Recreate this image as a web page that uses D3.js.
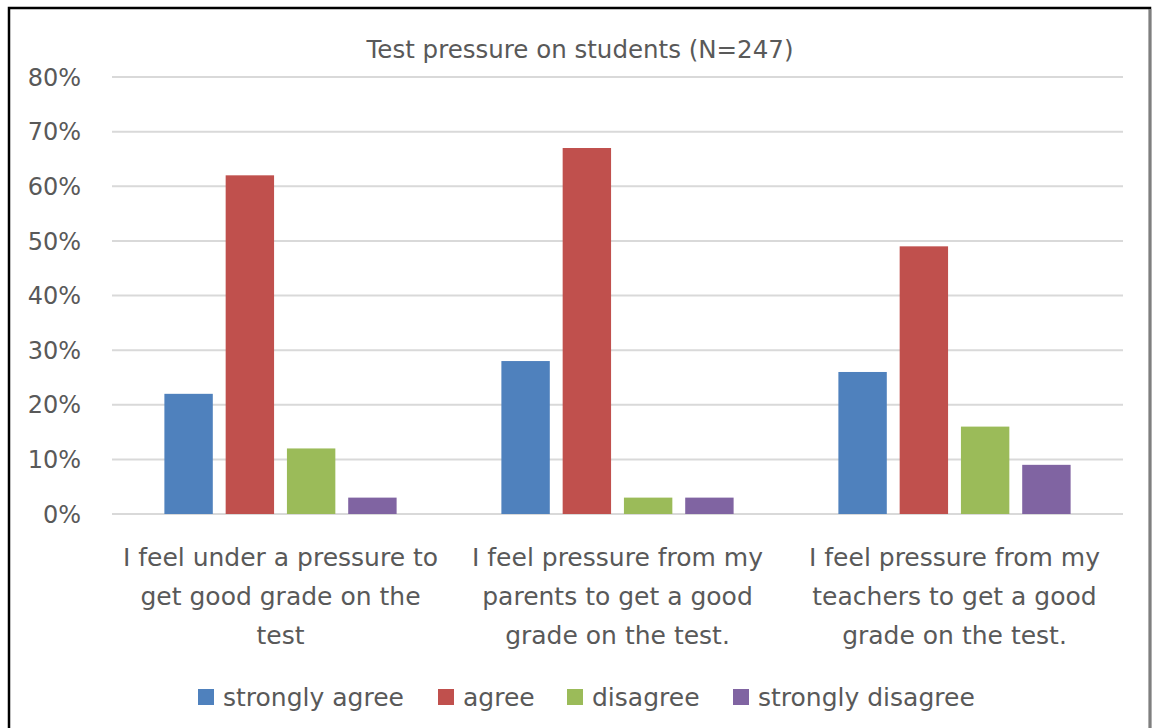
<!DOCTYPE html>
<html>
<head>
<meta charset="utf-8">
<script src="https://cdn.jsdelivr.net/npm/d3@7"></script>
<style>
  body { margin: 0; background: #fff; }
  text { font-family: "DejaVu Sans", sans-serif; fill: #595959; }
</style>
</head>
<body>
<script>
// data
const categories = [
    ["I feel under a pressure to", "get good grade on the", "test"],
    ["I feel pressure from my", "parents to get a good", "grade on the test."],
    ["I feel pressure from my", "teachers to get a good", "grade on the test."]
];
const seriesNames = ["strongly agree", "agree", "disagree", "strongly disagree"];
const stronglyAgree = [22, 28, 26];
const agree = [62, 67, 49];
const disagree = [12, 3, 16];
const stronglyDisagree = [3, 3, 9];
const yTicks = [0, 10, 20, 30, 40, 50, 60, 70, 80];
const colors = ["#4f81bd", "#c0504d", "#9bbb59", "#8064a2"];

const values = [stronglyAgree, agree, disagree, stronglyDisagree];

const width = 1152;
const height = 728;
const margin = { left: 112, right: 29, top: 77, bottom: 214 };

const svg = d3.select("body")
    .append("svg")
    .attr("width", width)
    .attr("height", height);

// frame (black top/left, grey right)
svg.append("rect")
    .attr("x", 9).attr("y", 8)
    .attr("width", 1141).attr("height", 730)
    .attr("fill", "white")
    .attr("stroke", "#000")
    .attr("stroke-width", 2.5);
svg.append("line")
    .attr("x1", 1150).attr("x2", 1150)
    .attr("y1", 9).attr("y2", height)
    .attr("stroke", "#7f7f7f")
    .attr("stroke-width", 2.5);

const x0 = d3.scaleBand()
    .domain(d3.range(categories.length))
    .range([margin.left, width - margin.right]);

const x1 = d3.scaleBand()
    .domain(d3.range(seriesNames.length))
    .range([0, x0.bandwidth()])
    .paddingInner(0.21)
    .paddingOuter(0.855);

const y = d3.scaleLinear()
    .domain([0, 80])
    .range([height - margin.bottom, margin.top]);

// gridlines
svg.append("g")
    .selectAll("line")
    .data(yTicks)
    .enter().append("line")
    .attr("x1", margin.left)
    .attr("x2", width - margin.right)
    .attr("y1", d => y(d))
    .attr("y2", d => y(d))
    .attr("stroke", "#d9d9d9")
    .attr("stroke-width", 2);

// y labels
svg.append("g")
    .selectAll("text")
    .data(yTicks)
    .enter().append("text")
    .attr("x", 81)
    .attr("y", d => y(d))
    .attr("dy", "0.36em")
    .attr("text-anchor", "end")
    .style("font-size", "24px")
    .text(d => d + "%");

// bars
const groups = svg.append("g")
    .selectAll("g")
    .data(categories)
    .enter().append("g")
    .attr("transform", (d, i) => `translate(${x0(i)},0)`);

groups.selectAll("rect")
    .data((d, i) => values.map((s, j) => ({ s: j, v: s[i] })))
    .enter().append("rect")
    .attr("x", d => x1(d.s))
    .attr("width", x1.bandwidth())
    .attr("y", d => y(d.v))
    .attr("height", d => y(0) - y(d.v))
    .attr("fill", d => colors[d.s]);

// category labels
const catLabels = svg.append("g")
    .selectAll("text")
    .data(categories)
    .enter().append("text")
    .attr("x", (d, i) => x0(i) + x0.bandwidth() / 2)
    .attr("y", 566)
    .attr("text-anchor", "middle")
    .style("font-size", "25px");

catLabels.selectAll("tspan")
    .data(d => d)
    .enter().append("tspan")
    .attr("x", function () { return d3.select(this.parentNode).attr("x"); })
    .attr("dy", (d, i) => i === 0 ? 0 : 39)
    .text(d => d);

// title
svg.append("text")
    .attr("x", 580)
    .attr("y", 58)
    .attr("text-anchor", "middle")
    .style("font-size", "24.5px")
    .text("Test pressure on students (N=247)");

// legend
const legendX = [198, 438, 567, 733];
const legend = svg.append("g")
    .selectAll("g")
    .data(seriesNames)
    .enter().append("g")
    .attr("transform", (d, i) => `translate(${legendX[i]},689)`);

legend.append("rect")
    .attr("width", 16)
    .attr("height", 16)
    .attr("fill", (d, i) => colors[i]);

legend.append("text")
    .attr("x", 25)
    .attr("y", 8)
    .attr("dy", "0.36em")
    .style("font-size", "25px")
    .text(d => d);
</script>
</body>
</html>
